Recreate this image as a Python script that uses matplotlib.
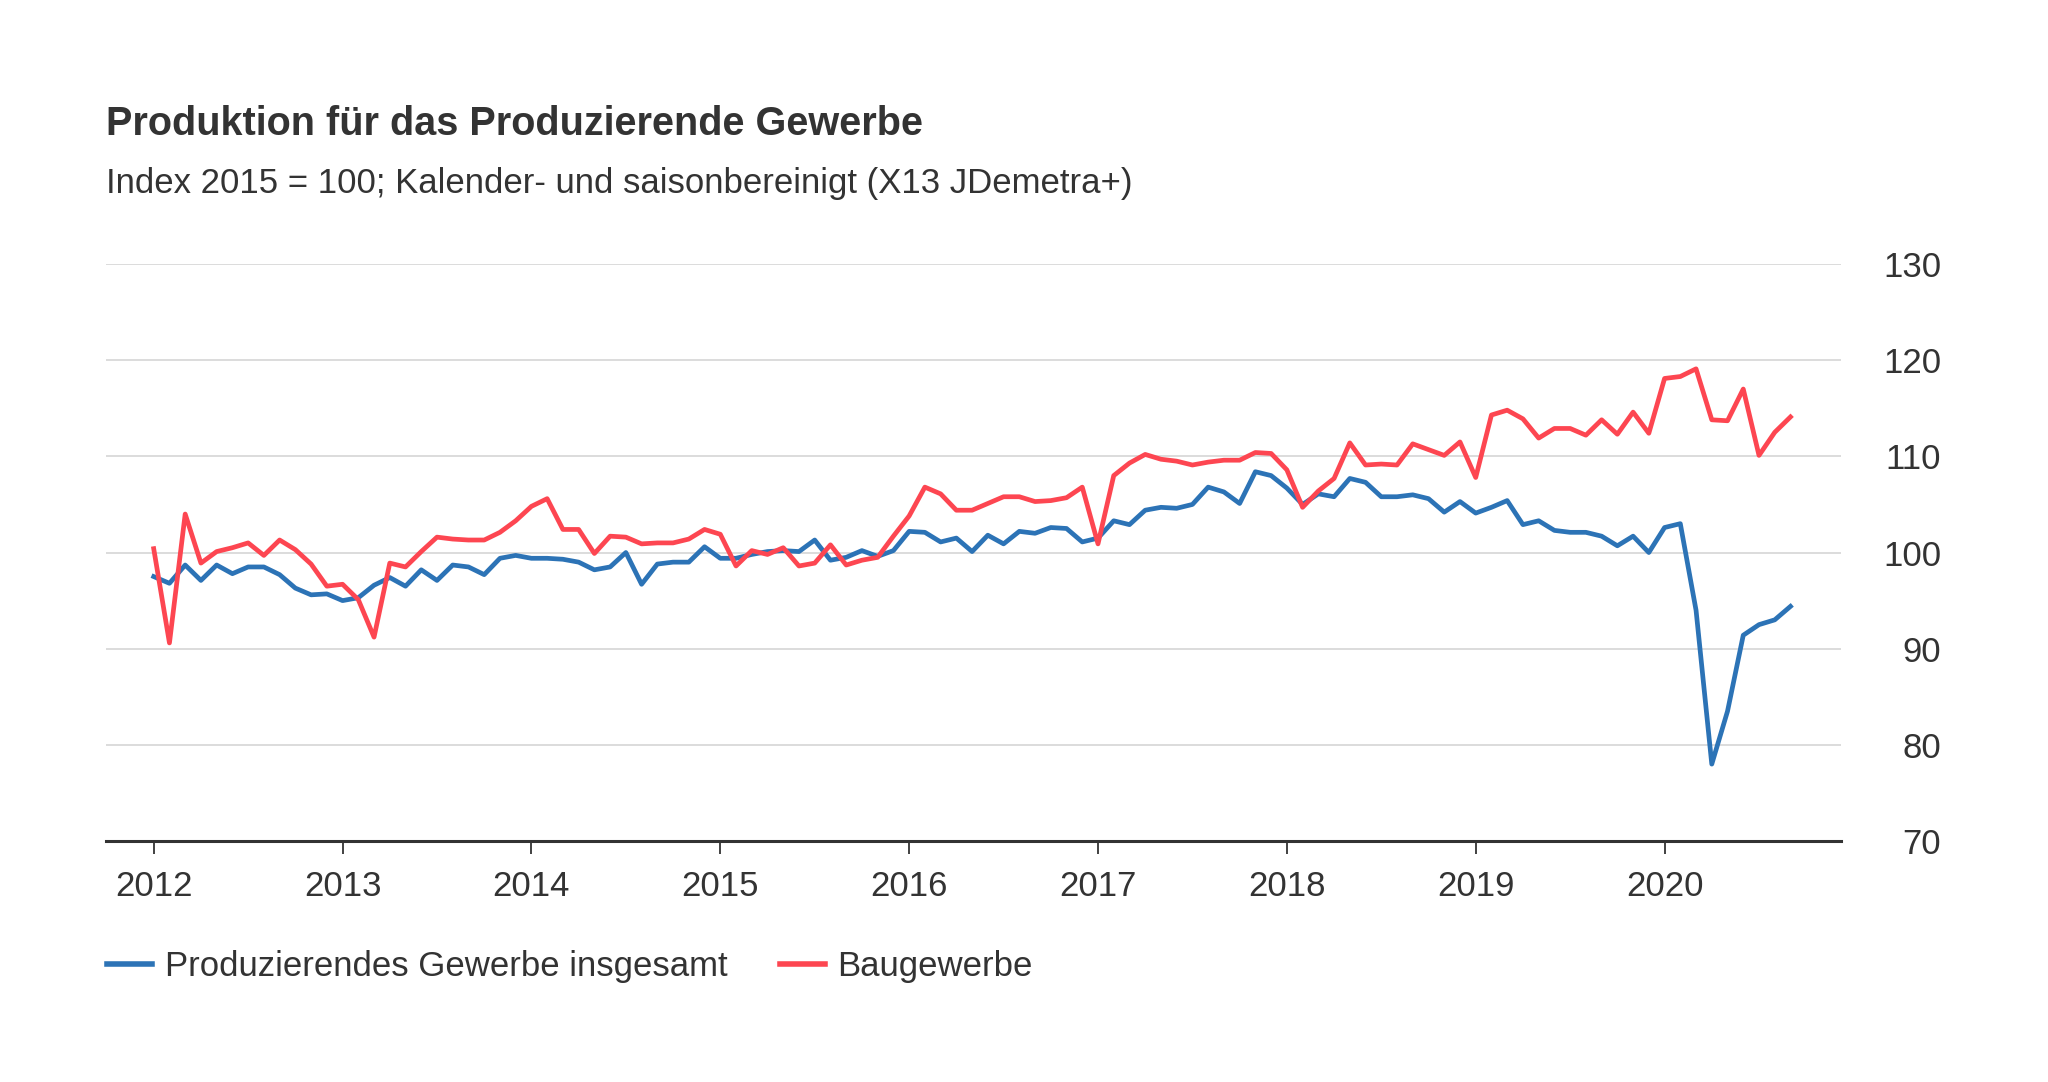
import matplotlib.pyplot as plt

plt.rcParams['font.family'] = ['Liberation Sans', 'DejaVu Sans']

# monthly values, Jan 2012 - Sep 2020
start_year = 2012
gesamt = [
    97.5, 96.8, 98.7, 97.1, 98.7, 97.8, 98.5, 98.5, 97.7, 96.3, 95.6, 95.7,
    95.0, 95.3, 96.6, 97.4, 96.5, 98.2, 97.1, 98.7, 98.5, 97.7, 99.4, 99.7,
    99.4, 99.4, 99.3, 99.0, 98.2, 98.5, 100.0, 96.7, 98.8, 99.0, 99.0, 100.6,
    99.4, 99.4, 99.8, 100.1, 100.2, 100.1, 101.3, 99.2, 99.5, 100.2, 99.6, 100.2,
    102.2, 102.1, 101.1, 101.5, 100.1, 101.8, 100.9, 102.2, 102.0, 102.6, 102.5, 101.1,
    101.5, 103.3, 102.9, 104.4, 104.7, 104.6, 105.0, 106.8, 106.3, 105.1, 108.4, 108.0,
    106.7, 105.0, 106.1, 105.8, 107.7, 107.3, 105.8, 105.8, 106.0, 105.6, 104.2, 105.3,
    104.1, 104.7, 105.4, 102.9, 103.3, 102.3, 102.1, 102.1, 101.7, 100.7, 101.7, 100.0,
    102.6, 103.0, 94.0, 78.0, 83.5, 91.4, 92.5, 93.0, 94.4,
]
bau = [
    100.4, 90.6, 104.0, 98.9, 100.1, 100.5, 101.0, 99.7, 101.3, 100.3, 98.8, 96.5,
    96.7, 95.1, 91.2, 98.9, 98.5, 100.1, 101.6, 101.4, 101.3, 101.3, 102.1, 103.3,
    104.8, 105.6, 102.4, 102.4, 99.9, 101.7, 101.6, 100.9, 101.0, 101.0, 101.4, 102.4,
    101.9, 98.6, 100.2, 99.8, 100.5, 98.6, 98.9, 100.8, 98.7, 99.2, 99.5, 101.7,
    103.8, 106.8, 106.1, 104.4, 104.4, 105.1, 105.8, 105.8, 105.3, 105.4, 105.7, 106.8,
    100.9, 108.0, 109.3, 110.2, 109.7, 109.5, 109.1, 109.4, 109.6, 109.6, 110.4, 110.3,
    108.6, 104.7, 106.4, 107.7, 111.4, 109.1, 109.2, 109.1, 111.3, 110.7, 110.1, 111.5,
    107.8, 114.3, 114.8, 113.9, 111.9, 112.9, 112.9, 112.2, 113.8, 112.3, 114.6, 112.4,
    118.1, 118.3, 119.1, 113.8, 113.7, 117.0, 110.1, 112.5, 114.1,
]
years = list(range(2012, 2021))
y_ticks = [70, 80, 90, 100, 110, 120, 130]
labels = ['Produzierendes Gewerbe insgesamt', 'Baugewerbe']

x = [start_year + i / 12 for i in range(len(gesamt))]

text_col = '#333333'
blue = '#2c73b6'
red = '#fd4651'

fig = plt.figure(figsize=(20.48, 10.82), dpi=100)
ax = fig.add_axes([0.052, 0.2227, 0.847, 0.5333])

ax.plot(x, gesamt, color=blue, lw=3.4, label=labels[0], solid_joinstyle='round')
ax.plot(x, bau, color=red, lw=3.4, label=labels[1], solid_joinstyle='round')

ax.set_xlim(2011.75, 2020.935)
ax.set_ylim(70, 130)
ax.set_xticks(years)
ax.set_xticklabels([str(y) for y in years])
ax.set_yticks(y_ticks)
ax.set_yticklabels([str(v) for v in y_ticks])

ax.yaxis.tick_right()
for lab in ax.get_yticklabels():
    lab.set_ha('right')
ax.tick_params(axis='y', length=0, pad=72, labelsize=25, labelcolor=text_col)
ax.tick_params(axis='x', length=9, width=1.3, color=text_col, pad=12,
               labelsize=25, labelcolor=text_col)

ax.grid(axis='y', color='#d9d9d9', lw=1.3)
ax.set_axisbelow(True)
for s in ['top', 'left', 'right']:
    ax.spines[s].set_visible(False)
ax.spines['bottom'].set_color(text_col)
ax.spines['bottom'].set_linewidth(2.2)

fig.text(0.052, 0.875, 'Produktion für das Produzierende Gewerbe',
         fontsize=28.5, fontweight='bold', color=text_col, va='baseline')
fig.text(0.052, 0.822, 'Index 2015 = 100; Kalender- und saisonbereinigt (X13 JDemetra+)',
         fontsize=25, color=text_col, va='baseline')

leg = ax.legend(loc='center left', bbox_to_anchor=(0.0522, 0.107), bbox_transform=fig.transFigure,
                ncol=2, frameon=False, fontsize=25, handlelength=1.3, handletextpad=0.37,
                columnspacing=1.5, borderpad=0, borderaxespad=0)
for t in leg.get_texts():
    t.set_color(text_col)
for h in leg.get_lines():
    h.set_linewidth(4)

fig.savefig('out.png', dpi=100)
